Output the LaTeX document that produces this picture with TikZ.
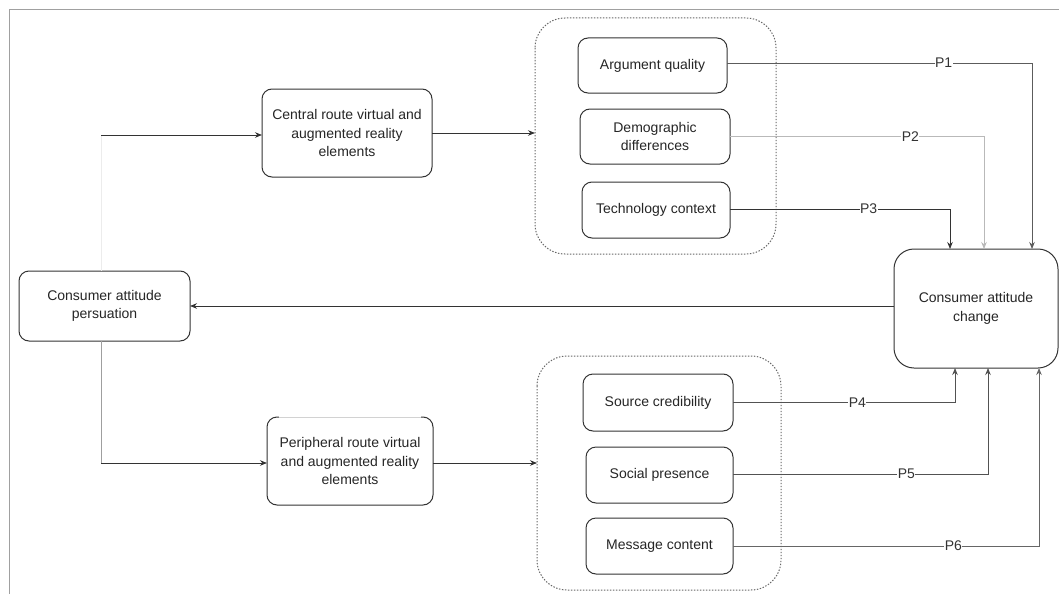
\documentclass[tikz,border=0pt]{standalone}
\usepackage{fontspec}
\setmainfont{Liberation Sans}
\usetikzlibrary{arrows.meta,calc}

\definecolor{edge}{HTML}{333333}
\definecolor{framegray}{HTML}{A0A0A0}

\tikzset{
  box/.style={draw=edge, line width=1pt, rounded corners=10pt, fill=white,
    align=center, inner sep=2pt, outer sep=0pt, text=black!85,
    font=\fontsize{14}{18.5}\selectfont},
  group/.style={draw=black!60, line width=1pt, dash pattern=on 1.4pt off 1.6pt,
    rounded corners=30pt},
  link/.style={draw=edge, line width=0.9pt},
  arr/.style={link, -{Stealth[length=7pt,width=5.5pt]}},
  plabel/.style={fill=white, inner sep=0.5pt, text=black!80,
    font=\fontsize{14}{16}\selectfont},
}

\begin{document}
\begin{tikzpicture}[x=1pt, y=-1pt]
\useasboundingbox (0,0) rectangle (1059,594);
\fill[white] (0,0) rectangle (1059,594);

% outer frame (top and left edges)
\draw[framegray, line width=1.1pt] (9.5,594) -- (9.5,9.5) -- (1059,9.5);

% groups of factors
\draw[group] (535,18) rectangle (776,254);
\draw[group] (537,356) rectangle (781,590);

% main boxes
\node[box, minimum width=170pt, minimum height=88pt] (cen) at (347,133)
  {Central route virtual and\\augmented reality\\elements};
\node[box, minimum width=166pt, minimum height=88pt] (per) at (350,461)
  {Peripheral route virtual\\and augmented reality\\elements};
\node[box, minimum width=171pt, minimum height=70pt] (pers) at (104.5,306)
  {Consumer attitude\\persuation};
\node[box, minimum width=164pt, minimum height=119pt, rounded corners=20pt] (chg) at (976,308.5)
  {Consumer attitude\\change};

% central route factors
\node[box, minimum width=149pt, minimum height=55pt] (aq) at (652.5,65.5) {Argument quality};
\node[box, minimum width=150pt, minimum height=55pt] (dd) at (655,136.5) {Demographic\\differences};
\node[box, minimum width=148pt, minimum height=56pt] (tc) at (656,210) {Technology context};

% peripheral route factors
\node[box, minimum width=150pt, minimum height=57pt] (sc) at (658,402.5) {Source credibility};
\node[box, minimum width=147pt, minimum height=56pt] (sp) at (659.5,475) {Social presence};
\node[box, minimum width=147pt, minimum height=56pt] (mc) at (659.5,546) {Message content};

% lighter top edge on the peripheral box
\draw[white, line width=1.3pt] ($(per.north west)+(12,0)$) -- ($(per.north east)+(-12,0)$);
\draw[gray!35, line width=0.8pt] ($(per.north west)+(12,0)$) -- ($(per.north east)+(-12,0)$);

% entry points on the group outlines
\coordinate (g1in) at (535,133);
\coordinate (g2in) at (537,463);
\coordinate (split) at (101,135);

% persuasion feeds both routes
\draw[gray!15, line width=0.8pt] (pers.north -| split) -- (split);
\draw[arr] (split) -- (cen.west |- split);
\draw[link, draw=gray!75] (pers.south -| split) -- ($(pers.south -| split)+(0,122)$) coordinate (bend);
\draw[arr] (bend) -- (per.west |- bend);

% routes into their factor groups
\draw[arr] (cen.east) -- (g1in);
\draw[arr] (per.east |- g2in) -- (g2in);

% change loops back to persuasion
\draw[arr] (chg.west |- pers.east) -- (pers.east);

% propositions P1--P3 (into the top of the change box)
\coordinate (t1) at ($(chg.north west)+(138,0)$);
\coordinate (t2) at ($(chg.north west)+(90,0)$);
\coordinate (t3) at ($(chg.north west)+(56,0)$);
\draw[arr, draw=edge!80] (aq.east |- 0,63) -- node[plabel, pos=0.71]{P1} (t1 |- 0,63) -- (t1);
\draw[arr, draw=gray!55] (dd.east) -- node[plabel, pos=0.71]{P2} (t2 |- dd.east) -- (t2);
\draw[arr] (tc.east |- 0,209) -- node[plabel, pos=0.63]{P3} (t3 |- 0,209) -- (t3);

% propositions P4--P6 (into the bottom of the change box)
\coordinate (b4) at ($(chg.south west)+(61,0)$);
\coordinate (b5) at ($(chg.south west)+(94,0)$);
\coordinate (b6) at ($(chg.south west)+(145,0)$);
\draw[arr, draw=edge!85] (sc.east) -- node[plabel, pos=0.56]{P4} (b4 |- sc.east) -- (b4);
\draw[arr, draw=edge!85] (sp.east |- 0,474) -- node[plabel, pos=0.68]{P5} (b5 |- 0,474) -- (b5);
\draw[arr, draw=edge!75] (mc.east) -- node[plabel, pos=0.72]{P6} (b6 |- mc.east) -- (b6);
\end{tikzpicture}
\end{document}
